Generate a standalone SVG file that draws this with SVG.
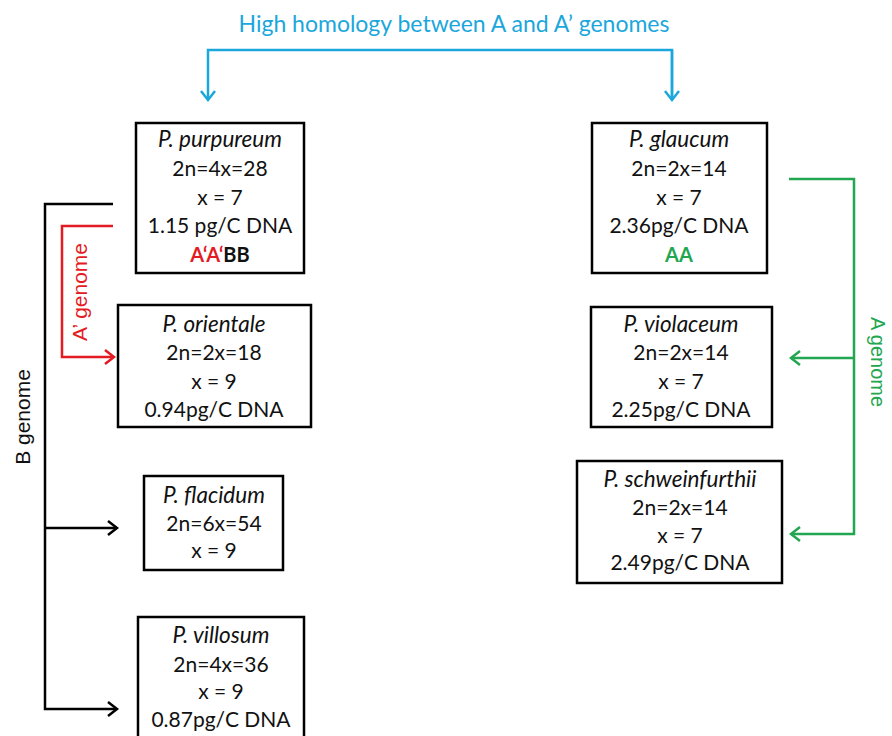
<svg xmlns="http://www.w3.org/2000/svg" width="892" height="736" viewBox="0 0 892 736">
<style>
text{font-family:Lato,"Open Sans","Liberation Sans",sans-serif;font-size:21px;fill:#111;text-anchor:middle}
.it{font-style:italic;font-size:22.5px}
.b{font-weight:bold;font-size:20px}
.lab{font-family:"Liberation Sans",Arial,sans-serif;font-size:21px}
.box{fill:#fff;stroke:#000;stroke-width:2.5}
.ln{fill:none;stroke-width:2.5}
</style>
<defs>
<marker id="aBk" markerUnits="userSpaceOnUse" markerWidth="16" markerHeight="18" refX="12" refY="9" orient="auto"><path d="M3,2 L12,9 L3,16" fill="none" stroke="#000" stroke-width="2.5"/></marker>
<marker id="aRd" markerUnits="userSpaceOnUse" markerWidth="16" markerHeight="18" refX="12" refY="9" orient="auto"><path d="M3,2 L12,9 L3,16" fill="none" stroke="#e31b23" stroke-width="2.5"/></marker>
<marker id="aGr" markerUnits="userSpaceOnUse" markerWidth="16" markerHeight="18" refX="12" refY="9" orient="auto"><path d="M3,2 L12,9 L3,16" fill="none" stroke="#22a650" stroke-width="2.5"/></marker>
<marker id="aBl" markerUnits="userSpaceOnUse" markerWidth="16" markerHeight="18" refX="12" refY="9" orient="auto"><path d="M3,2 L12,9 L3,16" fill="none" stroke="#1ba7dc" stroke-width="2.5"/></marker>
</defs>
<g id="connectors">
<path class="ln" stroke="#1ba7dc" d="M672,100 V50 H208 V100" marker-end="url(#aBl)"/>
<path class="ln" stroke="#1ba7dc" d="M672,50 V100" marker-end="url(#aBl)"/>
<path class="ln" stroke="#000" d="M113,204 H45 V709 H117" marker-end="url(#aBk)"/>
<path class="ln" stroke="#000" d="M45,528 H117" marker-end="url(#aBk)"/>
<path class="ln" stroke="#e31b23" d="M113,226 H62 V357 H114" marker-end="url(#aRd)"/>
<path class="ln" stroke="#22a650" d="M789,179 H854 V534 H791" marker-end="url(#aGr)"/>
<path class="ln" stroke="#22a650" d="M854,358 H791" marker-end="url(#aGr)"/>
</g>
<g id="labels">
<text x="454" y="32" style="fill:#1ba7dc;font-size:23px">High homology between A and A’ genomes</text>
<text class="lab" transform="translate(30,417) rotate(-90)">B genome</text>
<text class="lab" transform="translate(87,292) rotate(-90)" style="fill:#e31b23">A’ genome</text>
<text class="lab" transform="translate(871,362) rotate(90)" style="fill:#22a650;font-size:20px">A genome</text>
</g>
<g id="purpureum">
<rect class="box" x="136" y="123" width="168" height="150"/>
<text class="it" x="220" y="147">P. purpureum</text>
<text x="220" y="176">2n=4x=28</text>
<text x="220" y="205">x = 7</text>
<text x="220" y="233">1.15 pg/C DNA</text>
<text class="b" x="220" y="262"><tspan style="fill:#e31b23">A‘A‘</tspan>BB</text>
</g>
<g id="orientale">
<rect class="box" x="118" y="305" width="193" height="122"/>
<text class="it" x="214" y="332">P. orientale</text>
<text x="214" y="360">2n=2x=18</text>
<text x="214" y="389">x = 9</text>
<text x="214" y="417">0.94pg/C DNA</text>
</g>
<g id="flacidum">
<rect class="box" x="144" y="476" width="139" height="94"/>
<text class="it" x="214" y="503">P. flacidum</text>
<text x="214" y="531">2n=6x=54</text>
<text x="214" y="558">x = 9</text>
</g>
<g id="villosum">
<rect class="box" x="138" y="617" width="166" height="125"/>
<text class="it" x="221" y="643">P. villosum</text>
<text x="221" y="672">2n=4x=36</text>
<text x="221" y="699">x = 9</text>
<text x="221" y="727">0.87pg/C DNA</text>
</g>
<g id="glaucum">
<rect class="box" x="592" y="123" width="175" height="150"/>
<text class="it" x="679" y="147">P. glaucum</text>
<text x="679" y="176">2n=2x=14</text>
<text x="679" y="205">x = 7</text>
<text x="679" y="233">2.36pg/C DNA</text>
<text class="b" x="679" y="262" style="fill:#22a650">AA</text>
</g>
<g id="violaceum">
<rect class="box" x="591" y="307" width="181" height="120"/>
<text class="it" x="681" y="332">P. violaceum</text>
<text x="681" y="360">2n=2x=14</text>
<text x="681" y="389">x = 7</text>
<text x="681" y="417">2.25pg/C DNA</text>
</g>
<g id="schweinfurthii">
<rect class="box" x="577" y="461" width="205" height="122"/>
<text class="it" x="680" y="487">P. schweinfurthii</text>
<text x="680" y="515">2n=2x=14</text>
<text x="680" y="543">x = 7</text>
<text x="680" y="570">2.49pg/C DNA</text>
</g>
</svg>
